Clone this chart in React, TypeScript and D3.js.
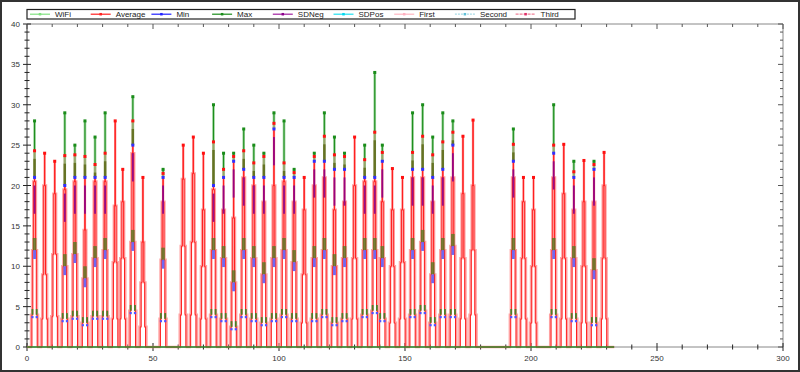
import * as React from "react";
import * as d3 from "d3";

// event centres on the x axis (sample index)
const eventX = [3, 7, 11, 15, 19, 23, 27, 31, 35, 38, 42, 46, 54, 62, 66, 70, 74, 78, 82, 86, 90, 94, 98, 102, 106, 110, 114, 118, 122, 126, 130, 134, 138, 141, 145, 149, 153, 157, 161, 165, 169, 173, 177, 193, 197, 201, 209, 213, 217, 221, 225, 229];
const avgPeak = [24.3, 24, 23, 23.7, 23.8, 23.6, 22.6, 24, 28, 22, 28, 21, 21.5, 25, 26, 24, 25.4, 22, 23.6, 24.3, 22.8, 23.6, 27.7, 22.8, 21.6, 21, 23.6, 26.1, 23.8, 23.6, 26, 23.2, 26.6, 24.1, 22.1, 21, 24.1, 26.1, 23.8, 25.4, 26.6, 26.1, 28.1, 25.1, 21, 21, 25, 25.1, 21.7, 23.1, 22.6, 24.1];
const maxPeak: (number | null)[] = [28, null, null, 29, 25, 28, 26, 29, null, null, 31, null, 22, null, null, null, 30, 24, 24, 27, 25, 24, 29, 28, 22, null, 24, 29, 26, 24, null, 25, 34, 25, null, null, 29, 30, 26, 29, 28, null, null, 27, null, null, 30, null, 23, null, 23, null];
const minPeak: (number | null)[] = [21, null, null, 20, 21, 21, 21, 21, null, null, 25, null, 21, null, null, null, 20, 21, 23, 22, 21, 21, 27, 21, 21, null, 23, 23, 22, 22, null, 21, 21, 23, null, null, 22, 22, 21, 22, 25, null, null, 23, null, null, 24, null, 21, null, 22, null];
const tierLow = [4, 3.5, 3.8, 3.5, 3.8, 3, 3.8, 3.8, 3.5, 3.5, 4.5, 2.5, 3.5, 4, 4, 3.5, 4, 3.5, 2.5, 4, 3.5, 3, 3.5, 4, 3.5, 3, 3.5, 4, 3, 3.5, 3.5, 4, 4.5, 3.5, 3, 3.5, 4, 4.5, 3, 4, 4, 3.5, 4, 4, 3.5, 3, 4, 3.5, 3.5, 3, 3, 3.5];
const tierMid = [12, 9, 11.5, 10, 11.5, 8.5, 11, 12, 10.5, 11, 13, 8, 10.8, 12.5, 13, 10, 12, 11, 8, 12, 11, 9, 11, 12, 10.5, 9, 11, 12, 10, 11, 11, 12, 12, 11, 10, 10.5, 12, 13, 9, 12, 12.5, 11, 12, 12, 11, 10, 12, 11, 11, 10, 9.5, 11];
const tierHigh = [20.5, 20, 19, 19.5, 20.5, 14.5, 20.5, 20.5, 17.5, 18, 24, 13, 18, 20.8, 21.5, 17, 19.5, 17, 16, 21, 20, 18, 20, 20.5, 18, 17, 20, 21, 17, 18, 20, 20.5, 20.5, 18, 17, 17, 21, 21, 18, 21, 21, 19, 20, 21, 18, 17, 21, 19, 17, 18, 18, 20];
const dataEnd = 233;

const xTicks = [0, 50, 100, 150, 200, 250, 300];
const yTicks = [0, 5, 10, 15, 20, 25, 30, 35, 40];

const legendNames = ["WiFi", "Average", "Min", "Max", "SDNeg", "SDPos", "First", "Second", "Third"];
const legendColors = ["#80e080", "#ff2020", "#2020ff", "#1a8c1a", "#a020a0", "#20e0f0", "#ffb6c1", "#a8dbe6", "#f08098"];
const legendMarkers = ["#80e080", "#ff2020", "#2020ff", "#1a8c1a", "#8b008b", "#00d8f0", "#ffb0c0", "#60c0d8", "#e0306a"];

const x = d3.scaleLinear().domain([0, 300]).range([27, 783]);
const y = d3.scaleLinear().domain([0, 40]).range([347, 24]);
const line = d3.line<[number, number]>().x(d => x(d[0])).y(d => y(d[1]));

// stepped tower: outer step at t1, next at t2, next at t3, then the peak
function tower(c: number, lv: number[], w: number[]): [number, number][] {
    const [t1, t2, t3, top] = lv;
    return [
        [c - w[0], 0], [c - w[0], t1], [c - w[1], t1], [c - w[1], t2], [c - w[2], t2], [c - w[2], t3],
        [c, t3], [c, top], [c, t3],
        [c + w[2], t3], [c + w[2], t2], [c + w[1], t2], [c + w[1], t1], [c + w[0], t1], [c + w[0], 0],
    ];
}

function allTowers(w: number[]) {
    const pts: [number, number][] = [[0, 0]];
    eventX.forEach((c, i) => {
        pts.push(...tower(c, [tierLow[i], tierMid[i], tierHigh[i], avgPeak[i]], w));
    });
    pts.push([dataEnd, 0]);
    return line(pts) || "";
}

const Sq: React.FC<{ cx: number; cy: number; fill: string; s?: number }> = ({ cx, cy, fill, s = 3 }) => (
    <rect x={cx - s / 2} y={cy - s / 2} width={s} height={s} fill={fill} />
);

const App: React.FC = () => {
    const font = "'Liberation Sans', Arial, sans-serif";
    const minor = d3.range(0, 41, 1);
    const xMinor = d3.range(0, 301, 10);

    return (
        <svg width={800} height={372} style={{ position: "absolute", left: 0, top: 0 }} fontFamily={font}>
            <rect x={0} y={0} width={800} height={372} fill="#fff" />
            <rect x={1} y={1} width={798} height={370} fill="none" stroke="#333" strokeWidth={2} />

            {/* plot frame */}
            <line x1={x(0)} x2={x(300)} y1={y(40)} y2={y(40)} stroke="#888" />
            <line x1={x(300)} x2={x(300)} y1={y(40)} y2={y(0)} stroke="#888" />
            <line x1={x(0)} x2={x(300)} y1={y(0)} y2={y(0)} stroke="#888" />
            <line x1={x(0)} x2={x(0)} y1={y(40)} y2={y(0)} stroke="#333" />

            {/* left + right ticks */}
            {minor.map(v => {
                const major = v % 5 === 0;
                return (
                    <g key={"y" + v}>
                        <line x1={x(0) - (major ? 4 : 2.5)} x2={x(0) + (major ? 4 : 2.5)} y1={y(v)} y2={y(v)} stroke="#222" />
                        <line x1={x(300) - (major ? 5 : 3)} x2={x(300)} y1={y(v)} y2={y(v)} stroke="#555" />
                    </g>
                );
            })}
            {/* bottom + top ticks */}
            {xMinor.map(v => {
                const major = v % 50 === 0;
                return (
                    <g key={"x" + v}>
                        <line x1={x(v)} x2={x(v)} y1={y(0) - (major ? 4 : 2.5)} y2={y(0) + (major ? 4 : 2.5)} stroke="#222" />
                        <line x1={x(v)} x2={x(v)} y1={y(40)} y2={y(40) + (major ? 5 : 3)} stroke="#555" />
                    </g>
                );
            })}
            {yTicks.map(v => (
                <text key={"yl" + v} x={x(0) - 7} y={y(v) + 3} fontSize={8} fill="#333" textAnchor="end">{v}</text>
            ))}
            {xTicks.map(v => (
                <text key={"xl" + v} x={x(v)} y={361} fontSize={8} fill="#333" textAnchor="middle">{v}</text>
            ))}

            {/* towers */}
            <path d={allTowers([1.4, 1.0, 0.55])} fill="none" stroke="#ff8a8a" strokeOpacity={0.8} strokeWidth={2.4} />
            <path d={allTowers([1.05, 0.7, 0.35])} fill="none" stroke="#ff2020" strokeWidth={1} />

            {/* statistic overlays */}
            {eventX.map((c, i) => {
                const M = maxPeak[i];
                const m = minPeak[i];
                if (M == null || m == null) return null;
                const A = avgPeak[i];
                const t1 = tierLow[i];
                const t2 = tierMid[i];
                const top = Math.max(m, A - 1);
                return (
                    <g key={"s" + i}>
                        <line x1={x(c)} x2={x(c)} y1={y(m)} y2={y(M)} stroke="#7cc47c" strokeOpacity={0.8} strokeWidth={2.6} />
                        <line x1={x(c)} x2={x(c)} y1={y(A)} y2={y(M)} stroke="#1a8c1a" strokeWidth={1} />
                        <rect x={x(c) - 1.2} y={y(top)} width={2.4} height={y(m) - y(top)} fill="#5e6a18" fillOpacity={0.85} />
                        <rect x={x(c) - 0.9} y={y(m - 1)} width={1.8} height={y(m - 4.5) - y(m - 1)} fill="#8b008b" fillOpacity={0.9} />
                        <rect x={x(c) - 1.8} y={y(t2 + 1.5)} width={3.6} height={y(t2) - y(t2 + 1.5)} fill="#557a22" fillOpacity={0.8} />
                        <rect x={x(c) - 1.4} y={y(t2)} width={2.8} height={y(t2 - 1.1) - y(t2)} fill="#6058f0" fillOpacity={0.9} />
                        {[-1, 1].map(s => (
                            <g key={s}>
                                <rect x={x(c + s * 0.85) - 0.9} y={y(t1 + 0.7)} width={1.8} height={y(t1) - y(t1 + 0.7)} fill="#4a8027" />
                                <Sq cx={x(c + s * 0.85)} cy={y(t1 - 0.3)} fill="#5050ff" s={2.2} />
                            </g>
                        ))}
                        <Sq cx={x(c)} cy={y(m)} fill="#3030ff" />
                        <Sq cx={x(c)} cy={y(M)} fill="#1a8c1a" />
                    </g>
                );
            })}

            {/* zero line of the series */}
            <line x1={x(0)} x2={x(dataEnd)} y1={y(0)} y2={y(0)} stroke="#2e8b2e" strokeWidth={1.5} />

            {eventX.map((c, i) => (
                <Sq key={"a" + i} cx={x(c)} cy={y(avgPeak[i])} fill="#ff1010" />
            ))}

            {/* legend */}
            <rect x={27} y={9.5} width={548} height={9.5} fill="#fff" stroke="#222" strokeWidth={1.2} />
            {legendNames.map((n, i) => {
                const lx = 30 + i * 60.7;
                return (
                    <g key={n}>
                        <line x1={lx} x2={lx + 20} y1={14.2} y2={14.2} stroke={legendColors[i]} strokeWidth={1.2}
                            strokeDasharray={n === "Second" ? "2,1" : n === "Third" ? "3,1" : undefined} />
                        <Sq cx={lx + 10} cy={14.2} fill={legendMarkers[i]} s={2.5} />
                        <text x={lx + 25} y={17.3} fontSize={8} fill="#222">{n}</text>
                    </g>
                );
            })}
        </svg>
    );
};

export default App;
